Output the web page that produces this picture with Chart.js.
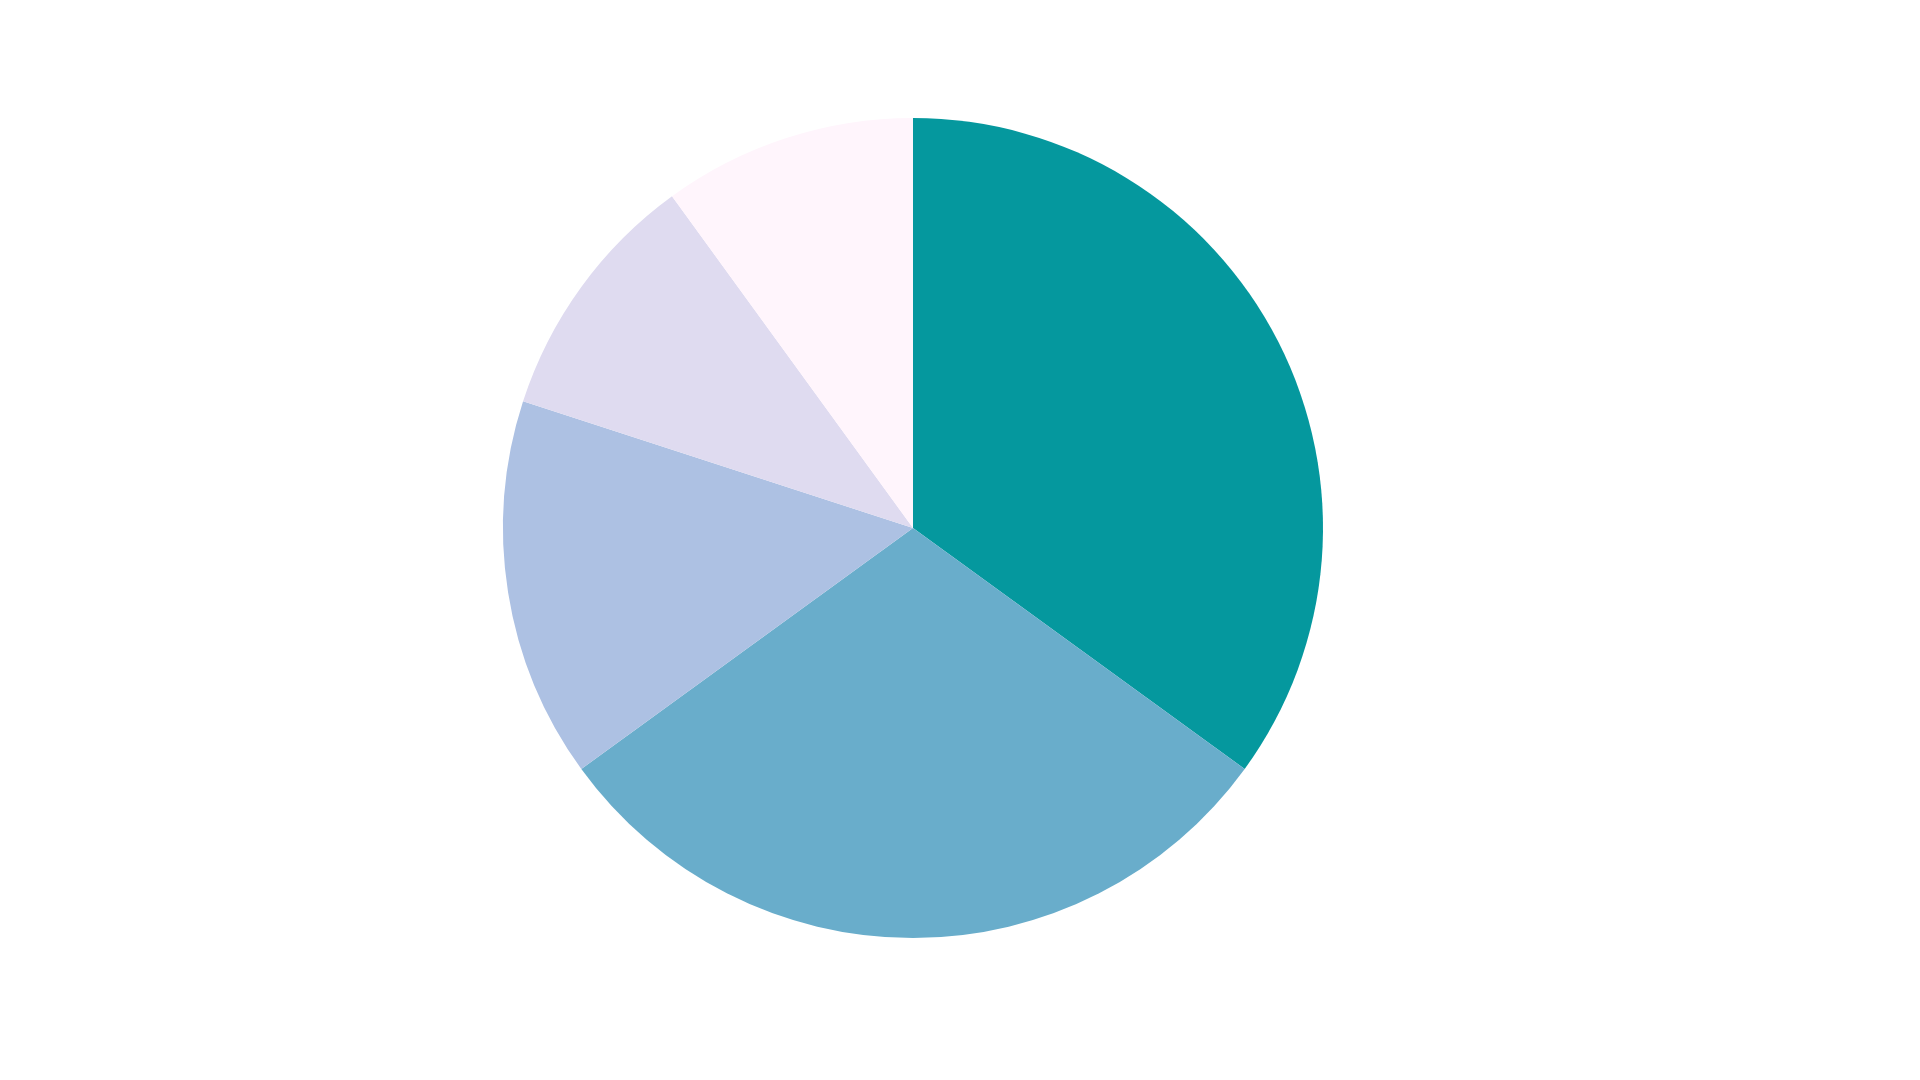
<!DOCTYPE html>
<html>
<head>
<meta charset="utf-8">
<script src="https://cdn.jsdelivr.net/npm/chart.js@4"></script>
<style>
  html, body { margin: 0; padding: 0; background: #fff; }
  #wrap { width: 1920px; height: 1080px; position: relative; }
</style>
</head>
<body>
<div id="wrap"><canvas id="pie"></canvas></div>
<script>
// Data (share of the circle, clockwise from 12 o'clock)
const labels = ['A', 'B', 'C', 'D', 'E'];
const values = [35, 30, 15, 10, 10];
const colors = ['#05989e', '#69adcb', '#adc1e3', '#dfdbf0', '#fff5fc'];

const ctx = document.getElementById('pie').getContext('2d');
const chart = new Chart(ctx, {
    type: 'pie',
    data: {
        labels: labels,
        datasets: [{
            data: values,
            backgroundColor: colors,
            borderWidth: 0
        }]
    },
    options: {
        responsive: true,
        maintainAspectRatio: false,
        animation: false,
        layout: { padding: { top: 118, bottom: 142, left: 0, right: 94 } },
        plugins: {
            legend: { display: false },
            tooltip: { enabled: false }
        }
    }
});
</script>
</body>
</html>
